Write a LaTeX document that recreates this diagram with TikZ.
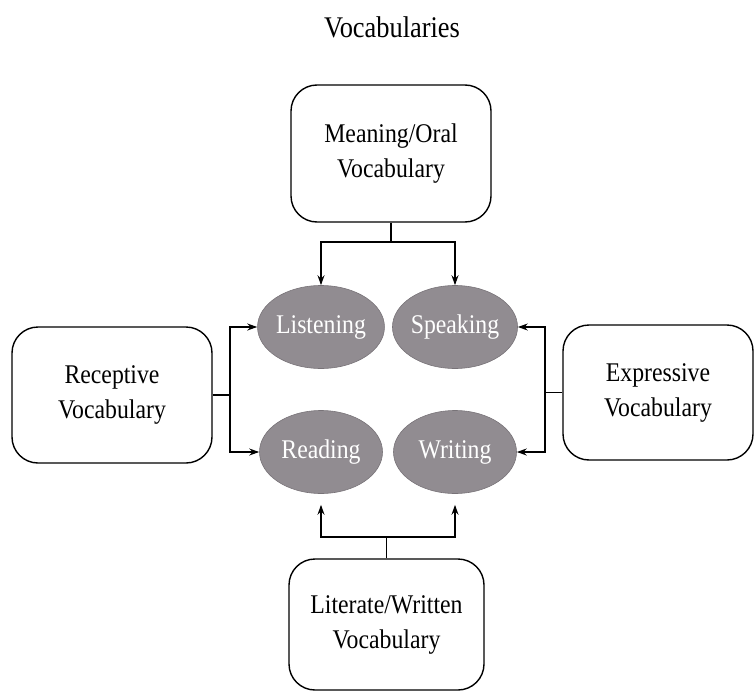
\documentclass[tikz,border=0pt]{standalone}
\usepackage{fontspec}
\setmainfont{Liberation Serif}[FakeStretch=0.88]
\usetikzlibrary{shapes.geometric,arrows.meta}
\definecolor{ovalfill}{RGB}{145,140,145}
\definecolor{ovaledge}{RGB}{120,115,120}
\begin{document}
\begin{tikzpicture}[x=1pt,y=-1pt,
  vbox/.style={draw,line width=1.4pt,rounded corners=26pt,align=center,
    font=\fontsize{27}{35}\selectfont,inner sep=0pt},
  oval/.style={ellipse,fill=ovalfill,draw=ovaledge,line width=0.6pt,
    minimum width=123pt,minimum height=83pt,inner sep=0pt,text=white,
    font=\fontsize{27}{32}\selectfont},
  conn/.style={line width=1.4pt},
  arr/.style={conn,-{Stealth[length=10pt,width=7pt]}}]
\useasboundingbox (0,0) rectangle (755,693);
\node[font=\fontsize{30}{36}\selectfont] (title) at (392,27) {Vocabularies};
\node[vbox,minimum width=200pt,minimum height=137pt] (top) at (391,153.5)
  {Meaning/Oral\\Vocabulary};
\node[vbox,minimum width=200pt,minimum height=136pt] (left) at (112,395)
  {Receptive\\Vocabulary};
\node[vbox,minimum width=190pt,minimum height=135pt] (right) at (658,392.5)
  {Expressive\\Vocabulary};
\node[vbox,minimum width=195pt,minimum height=131pt] (bottom) at (386.5,624.5)
  {Literate/Written\\Vocabulary};
\node[oval] (listen) at (321,327) {Listening};
\node[oval] (speak) at (455,327) {Speaking};
\node[oval] (read) at (321,452) {Reading};
\node[oval] (write) at (455,452) {Writing};
% top connector
\coordinate (tj) at (top.south |- 0,242);
\draw[conn] (top.south) -- (tj);
\draw[arr] (tj) -| (listen.north);
\draw[arr] (tj) -| (speak.north);
% left connector
\coordinate (lj) at (230,395);
\draw[conn] (left.east) -- (lj);
\draw[arr] (lj) |- (listen.west);
\draw[arr] (lj) |- (read.west);
% right connector
\coordinate (rj) at (545,392.5);
\draw[conn] (right.west) -- (rj);
\draw[arr] (rj) |- (speak.east);
\draw[arr] (rj) |- (write.east);
% bottom connector
\coordinate (bj) at (bottom.north |- 0,537);
\draw[conn] (bottom.north) -- (bj);
\draw[arr,shorten >=11pt] (bj) -| (read.south);
\draw[arr,shorten >=11pt] (bj) -| (write.south);
\end{tikzpicture}
\end{document}
